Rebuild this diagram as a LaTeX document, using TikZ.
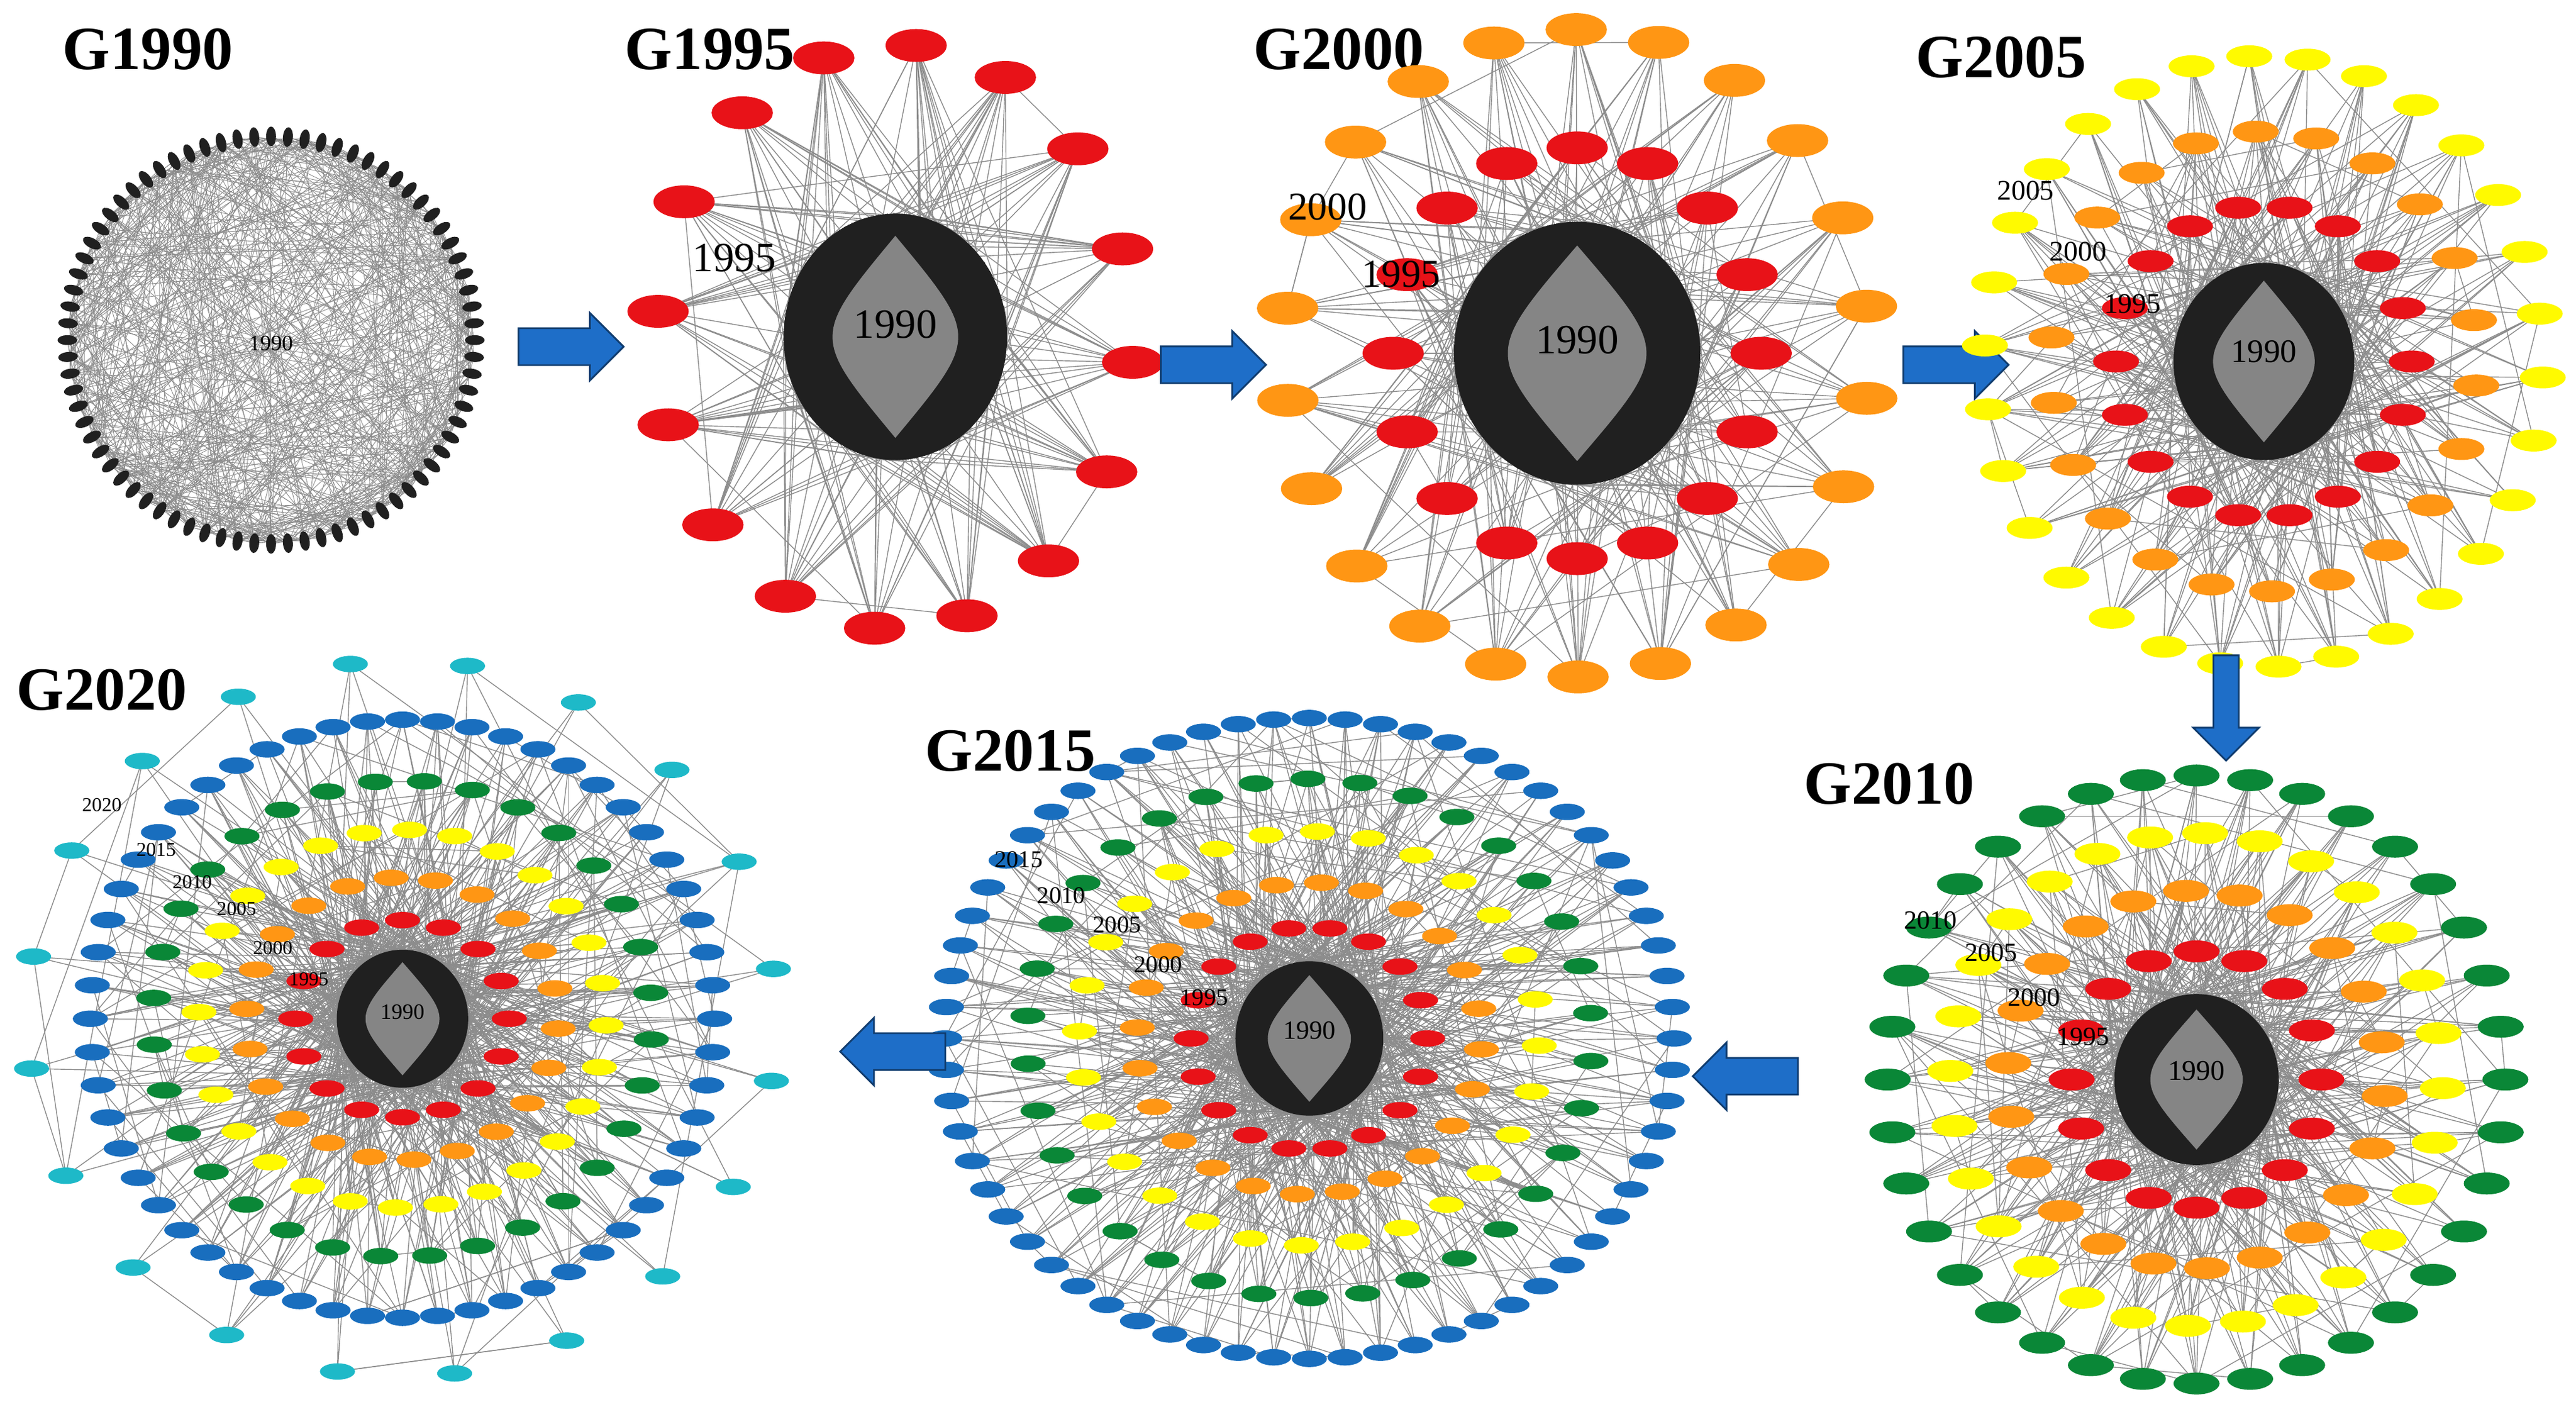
\documentclass[tikz,border=0pt]{standalone}
\usepackage{fontspec}
\setmainfont{Liberation Serif}
\usetikzlibrary{positioning}
\usetikzlibrary{shapes.geometric, shapes.arrows, backgrounds}
\definecolor{netred}{RGB}{232,18,24}
\definecolor{netorange}{RGB}{255,150,20}
\definecolor{netyellow}{RGB}{255,250,0}
\definecolor{netgreen}{RGB}{10,135,55}
\definecolor{netblue}{RGB}{25,110,190}
\definecolor{netcyan}{RGB}{30,185,200}
\definecolor{netcore}{RGB}{32,32,32}
\definecolor{arrowblue}{RGB}{30,110,200}
\tikzset{
  nd/.style={ellipse, inner sep=0pt, draw=none},
  big/.style={nd, minimum width=28pt, minimum height=15pt},
  mid/.style={nd, minimum width=21pt, minimum height=10pt},
  sml/.style={nd, minimum width=16pt, minimum height=7.5pt},
  rim/.style={nd, fill=netcore, minimum width=9pt, minimum height=4.5pt},
  edge/.style={draw=black!45, line width=0.4pt},
  title/.style={font=\fontsize{28}{30}\selectfont\bfseries},
  blockarrow/.style={single arrow, fill=arrowblue, draw=arrowblue!55!black, line width=0.8pt,
    minimum height=48pt, minimum width=30pt, single arrow head extend=7pt,
    inner xsep=4pt, inner ysep=8pt, single arrow head indent=0pt}
}
% ring of nodes: name, cx, cy, rx, ry, count, style, phase
\newcommand\ringnodes[8]{%
  \foreach \k in {1,...,#6}{
    \pgfmathsetmacro\ang{(360/#6)*\k+#8}
    \node[#7] (#1-\k) at ({#2+#4*cos(\ang)},{#3+#5*sin(\ang)}) {};
  }}
% edges of a ring: name, count, core, edges per node
\newcommand\ringedges[4]{%
  \begin{pgfonlayer}{background}
  \foreach \k in {1,...,#2}{
    \foreach \j in {1,...,#4}{
      \pgfmathtruncatemacro\a{360*rnd}
      \draw[edge] (#1-\k.center) -- (#3.\a);
    }
    \pgfmathtruncatemacro\r{1+floor(rnd*#2)}
    \draw[edge] (#1-\k.center) -- (#1-\r.center);
  }
  \end{pgfonlayer}}
% black core with grey lens: name, cx, cy, rx, ry, font size
\newcommand\netcore[6]{%
  \node[nd, fill=netcore, minimum width=1.5*#4 pt, minimum height=1.5*#5 pt] (#1) at (#2,#3) {};
  \fill[black!48] (#2,{#3-0.82*#5}) .. controls ({#2+0.75*#4},#3) .. (#2,{#3+0.82*#5})
    .. controls ({#2-0.75*#4},#3) .. cycle;
  \node[font=\fontsize{#6}{#6}\selectfont] (#1-lbl) at (#2,{#3-0.1*#5}) {1990};
}
\begin{document}
\begin{tikzpicture}[x=0.75pt, y=-0.75pt]
\pgfmathsetseed{11}
\useasboundingbox (0,0) rectangle (1568,856);

% G1990
\node[title] (t1990) at (90,30) {G1990};
\foreach \k in {1,...,76}{
  \pgfmathsetmacro\ang{(360/76)*\k}
  \node[rim, rotate=-\ang] (g0-\k) at ({165+124*cos(\ang)},{207+124*sin(\ang)}) {};
}
\begin{pgfonlayer}{background}
\foreach \k in {1,...,76}{
  \foreach \s in {1,...,8}{
    \pgfmathtruncatemacro\r{1+mod(\k+3+floor(rnd*36),76)}
    \draw[edge, line width=0.25pt] (g0-\k.center) -- (g0-\r.center);
  }
}
\end{pgfonlayer}
\node[font=\fontsize{10}{10}\selectfont] (l1990) at (165,209) {1990};
\node[blockarrow] (arr1) at (342,211) {};

% G1995
\node[title] (t1995) at (432,30) {G1995};
\netcore{c1}{545}{205}{68}{75}{19}
\ringnodes{g1}{545}{205}{145}{178}{16}{big, fill=netred}{5}
\ringedges{g1}{16}{c1}{14}
\node[font=\fontsize{19}{19}\selectfont] (l1995) at (447,157) {1995};
\node[blockarrow] (arr2) at (733,222) {};

% G2000
\node[title] (t2000) at (815,30) {G2000};
\netcore{c2}{960}{215}{75}{80}{19}
\ringnodes{g2r}{960}{215}{112}{125}{16}{big, fill=netred}{0}
\ringnodes{g2o}{960}{215}{178}{197}{22}{big, fill=netorange}{8}
\ringedges{g2r}{16}{c2}{7}
\ringedges{g2o}{22}{c2}{9}
\node[font=\fontsize{18}{18}\selectfont] (l2000a) at (808,126) {2000};
\node[font=\fontsize{18}{18}\selectfont] (l1995a) at (853,167) {1995};
\node[blockarrow] (arr3) at (1185,222) {};

% G2005
\node[title] (t2005) at (1218,35) {G2005};
\netcore{c3}{1378}{220}{55}{60}{15}
\ringnodes{g3r}{1378}{220}{90}{95}{18}{mid, fill=netred}{0}
\ringnodes{g3o}{1378}{220}{130}{140}{22}{mid, fill=netorange}{6}
\ringnodes{g3y}{1378}{220}{170}{186}{30}{mid, fill=netyellow}{3}
\ringedges{g3r}{18}{c3}{5}
\ringedges{g3o}{22}{c3}{6}
\ringedges{g3y}{30}{c3}{6}
\node[font=\fontsize{13}{13}\selectfont] (l2005b) at (1233,116) {2005};
\node[font=\fontsize{13}{13}\selectfont] (l2000b) at (1265,153) {2000};
\node[font=\fontsize{13}{13}\selectfont] (l1995b) at (1298,185) {1995};
\node[blockarrow, shape border rotate=270] (arr4) at (1355,427) {};

% G2010
\node[title] (t2010) at (1150,477) {G2010};
\netcore{c4}{1337}{657}{50}{52}{13}
\ringnodes{g4r}{1337}{657}{76}{78}{16}{mid, fill=netred}{0}
\ringnodes{g4o}{1337}{657}{115}{115}{22}{mid, fill=netorange}{5}
\ringnodes{g4y}{1337}{657}{150}{150}{28}{mid, fill=netyellow}{2}
\ringnodes{g4g}{1337}{657}{188}{185}{36}{mid, fill=netgreen}{0}
\ringedges{g4r}{16}{c4}{5}
\ringedges{g4o}{22}{c4}{5}
\ringedges{g4y}{28}{c4}{5}
\ringedges{g4g}{36}{c4}{5}
\node[font=\fontsize{12}{12}\selectfont] (l2010c) at (1175,560) {2010};
\node[font=\fontsize{12}{12}\selectfont] (l2005c) at (1212,580) {2005};
\node[font=\fontsize{12}{12}\selectfont] (l2000c) at (1238,607) {2000};
\node[font=\fontsize{12}{12}\selectfont] (l1995c) at (1268,631) {1995};
\node[blockarrow, shape border rotate=180] (arr5) at (1068,655) {};

% G2015
\node[title] (t2015) at (615,457) {G2015};
\netcore{c5}{797}{632}{45}{47}{12}
\ringnodes{g5r}{797}{632}{72}{68}{18}{sml, fill=netred}{0}
\ringnodes{g5o}{797}{632}{105}{95}{24}{sml, fill=netorange}{4}
\ringnodes{g5y}{797}{632}{140}{126}{28}{sml, fill=netyellow}{2}
\ringnodes{g5g}{797}{632}{172}{158}{34}{sml, fill=netgreen}{5}
\ringnodes{g5b}{797}{632}{222}{195}{64}{sml, fill=netblue}{0}
\ringedges{g5r}{18}{c5}{4}
\ringedges{g5o}{24}{c5}{4}
\ringedges{g5y}{28}{c5}{4}
\ringedges{g5g}{34}{c5}{4}
\ringedges{g5b}{64}{c5}{4}
\node[font=\fontsize{11}{11}\selectfont] (l2015d) at (620,523) {2015};
\node[font=\fontsize{11}{11}\selectfont] (l2010d) at (646,545) {2010};
\node[font=\fontsize{11}{11}\selectfont] (l2005d) at (680,563) {2005};
\node[font=\fontsize{11}{11}\selectfont] (l2000d) at (705,587) {2000};
\node[font=\fontsize{11}{11}\selectfont] (l1995d) at (733,607) {1995};
\node[blockarrow, shape border rotate=180] (arr6) at (549,640) {};

% G2020
\node[title] (t2020) at (62,420) {G2020};
\netcore{c6}{245}{620}{40}{42}{10}
\ringnodes{g6r}{245}{620}{65}{60}{16}{sml, fill=netred}{0}
\ringnodes{g6o}{245}{620}{95}{86}{22}{sml, fill=netorange}{4}
\ringnodes{g6y}{245}{620}{124}{115}{28}{sml, fill=netyellow}{2}
\ringnodes{g6g}{245}{620}{152}{145}{32}{sml, fill=netgreen}{5}
\ringnodes{g6b}{245}{620}{190}{182}{56}{sml, fill=netblue}{0}
\ringnodes{g6c}{245}{620}{228}{218}{20}{sml, fill=netcyan}{10}
\ringedges{g6r}{16}{c6}{4}
\ringedges{g6o}{22}{c6}{4}
\ringedges{g6y}{28}{c6}{4}
\ringedges{g6g}{32}{c6}{4}
\ringedges{g6b}{56}{c6}{4}
\ringedges{g6c}{20}{c6}{2}
\node[font=\fontsize{9}{9}\selectfont] (l2020e) at (62,490) {2020};
\node[font=\fontsize{9}{9}\selectfont] (l2015e) at (95,517) {2015};
\node[font=\fontsize{9}{9}\selectfont] (l2010e) at (117,537) {2010};
\node[font=\fontsize{9}{9}\selectfont] (l2005e) at (144,553) {2005};
\node[font=\fontsize{9}{9}\selectfont] (l2000e) at (166,577) {2000};
\node[font=\fontsize{9}{9}\selectfont] (l1995e) at (188,596) {1995};
\end{tikzpicture}
\end{document}
